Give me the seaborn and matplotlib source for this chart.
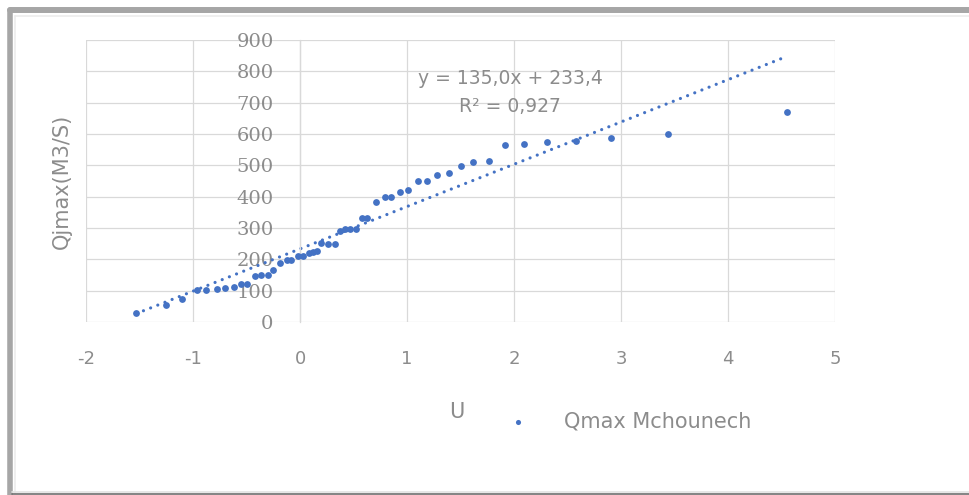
import numpy as np
import pandas as pd
import matplotlib
matplotlib.use("Agg")
import matplotlib.pyplot as plt
from matplotlib.lines import Line2D
import seaborn as sns

# valeurs (variable reduite de Gumbel U / debit Qmax)
u_values = [-1.53, -1.25, -1.10, -0.96, -0.88, -0.78, -0.70, -0.62, -0.55, -0.50,
            -0.42, -0.36, -0.30, -0.25, -0.19, -0.12, -0.08, -0.02, 0.03, 0.08,
            0.12, 0.16, 0.20, 0.26, 0.33, 0.37, 0.42, 0.47, 0.52, 0.58,
            0.63, 0.71, 0.79, 0.85, 0.93, 1.01, 1.10, 1.19, 1.28, 1.39,
            1.50, 1.62, 1.77, 1.92, 2.09, 2.31, 2.58, 2.91, 3.44, 4.55]
q_values = [28, 54, 72, 102, 102, 104, 107, 113, 121, 121,
            147, 150, 150, 166, 187, 199, 199, 211, 212, 220,
            224, 227, 251, 249, 249, 291, 296, 298, 297, 331,
            331, 384, 398, 399, 414, 421, 449, 451, 469, 474,
            498, 510, 515, 566, 569, 575, 577, 588, 600, 669]

# courbe de tendance (affichee par Excel)
slope = 135.0
intercept = 233.4
r2 = 0.927

x_ticks = [-2, -1, 0, 1, 2, 3, 4, 5]
y_ticks = [0, 100, 200, 300, 400, 500, 600, 700, 800, 900]
series_name = "Qmax Mchounech"

blue = "#4472C4"
grid_col = "#d9d9d9"
txt_col = "#8c8c8c"

df = pd.DataFrame({"U": u_values, "Q": q_values})
trend = pd.DataFrame({"U": [min(u_values), max(u_values)]})
trend["Q"] = slope * trend["U"] + intercept

sns.set_style("white")
plt.rcParams["font.family"] = ["DejaVu Sans"]
plt.rcParams["axes.unicode_minus"] = False

fig = plt.figure(figsize=(9.69, 4.95), dpi=100)
ax = fig.add_axes([86 / 969, 1 - 322 / 495, (835 - 86) / 969, (322 - 40) / 495])

sns.lineplot(data=trend, x="U", y="Q", ax=ax, color=blue, linewidth=2.3,
             linestyle=(0, (0.01, 2.4)), dash_capstyle="round", zorder=2)
sns.scatterplot(data=df, x="U", y="Q", ax=ax, color=blue, s=24, linewidth=0,
                label=series_name, zorder=3)

ax.set_xlim(x_ticks[0], x_ticks[-1])
ax.set_ylim(y_ticks[0], y_ticks[-1])
ax.set_xticks(x_ticks)
ax.set_yticks(y_ticks)
ax.grid(True, color=grid_col, linewidth=0.9, zorder=0)
ax.set_axisbelow(True)

for side in ["top", "right", "bottom"]:
    ax.spines[side].set_visible(False)
ax.spines["left"].set_position(("data", 0))
ax.spines["left"].set_color(grid_col)
ax.spines["left"].set_linewidth(0.9)

ax.tick_params(axis="y", length=0, pad=19, labelsize=14, labelcolor=txt_col)
ax.tick_params(axis="x", length=0, pad=20, labelsize=13, labelcolor=txt_col)
for lab in ax.get_yticklabels():
    lab.set_fontfamily("DejaVu Serif")

ax.set_xlabel("U", fontsize=15, color=txt_col)
ax.xaxis.set_label_coords((457 - 86) / 749, (322 - 412) / 282)
ax.xaxis.label.set_va("center")
ax.set_ylabel("Qjmax(M3/S)", fontsize=15, color=txt_col)
ax.yaxis.set_label_coords((62 - 86) / 749, 0.5)
ax.yaxis.label.set_va("center")

eq = f"y = {slope:.1f}x + {intercept:.1f}".replace(".", ",")
r2_txt = f"R² = {r2:.3f}".replace(".", ",")
ax.text((510 - 86) / 749, (322 - 78) / 282, eq, transform=ax.transAxes,
        ha="center", va="center", fontsize=13.5, color=txt_col)
ax.text((510 - 86) / 749, (322 - 107) / 282, r2_txt, transform=ax.transAxes,
        ha="center", va="center", fontsize=13.5, color=txt_col)

leg = ax.legend(loc="center left", bbox_to_anchor=(508 / 969, 1 - 421 / 495),
                bbox_transform=fig.transFigure, frameon=False, fontsize=15,
                handlelength=1.0, handletextpad=1.7, borderpad=0, borderaxespad=0,
                markerscale=0.75)
for t in leg.get_texts():
    t.set_color(txt_col)

# cadre gris autour du graphique
W, H = 969, 495
fig.add_artist(Line2D([9.5 / W, 1], [1 - 10 / H, 1 - 10 / H], color="#a6a6a6", lw=4.3))
fig.add_artist(Line2D([9.5 / W, 9.5 / W], [0, 1 - 10 / H], color="#a6a6a6", lw=4.0))
fig.add_artist(Line2D([15 / W, 1], [1 - 15.5 / H, 1 - 15.5 / H], color="#ececec", lw=1.2))
fig.add_artist(Line2D([15 / W, 15 / W], [2 / H, 1 - 15.5 / H], color="#ececec", lw=1.2))
fig.add_artist(Line2D([12 / W, 1], [3.5 / H, 3.5 / H], color="#e3e3e3", lw=1.2))
fig.add_artist(Line2D([12 / W, 1], [0.7 / H, 0.7 / H], color="#6e6e6e", lw=1.2))

fig.savefig("out.png", dpi=100)
plt.close(fig)
